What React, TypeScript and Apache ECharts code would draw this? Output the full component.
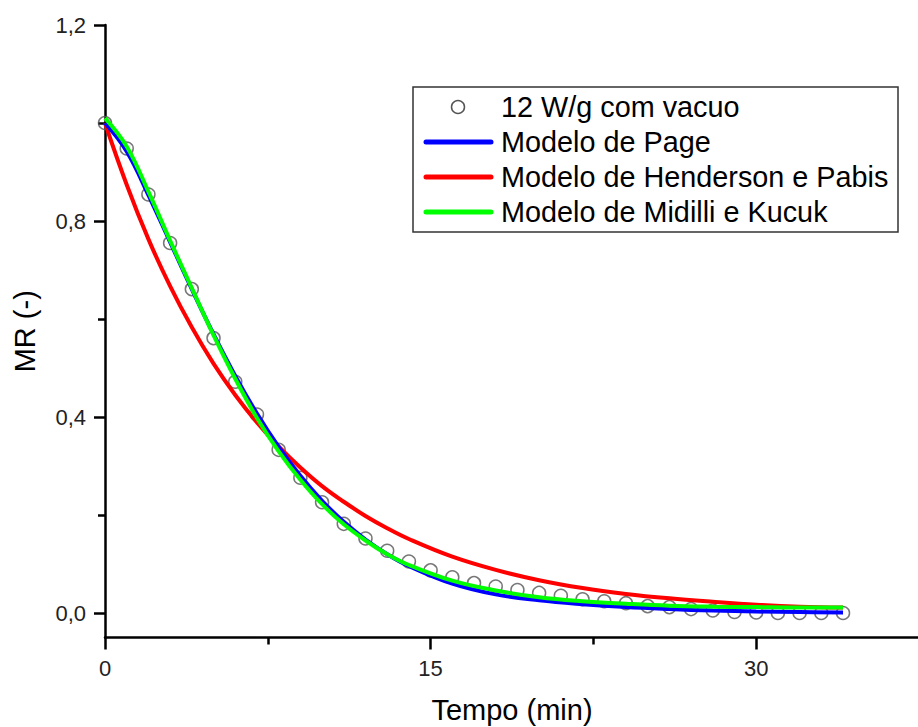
import React, { useEffect, useRef } from "react";
import * as echarts from "echarts";

// Experimental data: 12 W/g com vacuo
const dataTime = [0, 1, 2, 3, 4, 5, 6, 7, 8, 9, 10, 11, 12, 13, 14, 15, 16, 17, 18, 19, 20, 21, 22, 23, 24, 25, 26, 27, 28, 29, 30, 31, 32, 33, 34];
const dataMR = [1.0, 0.948, 0.854, 0.755, 0.661, 0.561, 0.472, 0.405, 0.333, 0.276, 0.226, 0.182, 0.152, 0.127, 0.105, 0.087, 0.073, 0.061, 0.054, 0.047, 0.041, 0.035, 0.028, 0.024, 0.02, 0.014, 0.012, 0.008, 0.005, 0.002, 0.001, 0.0, 0.0, 0.0, 0.0];

// Model curves
const curveTime = [0, 1, 2, 3, 4, 5, 6, 7, 8, 9, 10, 11, 12, 13, 14, 16, 18, 20, 22, 24, 26, 28, 30, 32, 34];
const pageMR = [1.0, 0.942, 0.853, 0.757, 0.661, 0.569, 0.484, 0.407, 0.339, 0.28, 0.229, 0.186, 0.15, 0.12, 0.096, 0.06, 0.038, 0.026, 0.018, 0.012, 0.008, 0.005, 0.003, 0.002, 0.001];
const hendersonMR = [1.0, 0.874, 0.763, 0.667, 0.583, 0.509, 0.445, 0.389, 0.34, 0.297, 0.259, 0.227, 0.198, 0.173, 0.151, 0.115, 0.088, 0.067, 0.051, 0.039, 0.03, 0.023, 0.017, 0.013, 0.011];
const midilliMR = [1.01, 0.952, 0.86, 0.76, 0.663, 0.567, 0.478, 0.398, 0.33, 0.272, 0.222, 0.181, 0.148, 0.12, 0.098, 0.066, 0.046, 0.032, 0.024, 0.019, 0.015, 0.013, 0.012, 0.011, 0.011];

const xMajorTicks = [0, 15, 30];
const xMinorTicks = [7.5, 22.5, 37.5];
const yMajorTicks = [0, 0.4, 0.8, 1.2];
const yMinorTicks = [0.2, 0.6, 1.0];

const legendNames = ["12 W/g com vacuo", "Modelo de Page", "Modelo de Henderson e Pabis", "Modelo de Midilli e Kucuk"];
const lineColors = ["#0000ff", "#ff0000", "#00ff00"];

const FONT = "'Liberation Sans', Arial, sans-serif";

export default function App() {
  const ref = useRef<HTMLDivElement>(null);

  useEffect(() => {
    if (!ref.current) return;
    const chart = echarts.init(ref.current, undefined, { renderer: "svg" });

    const pairs = (xs: number[], ys: number[]) => xs.map((x, i) => [x, ys[i]]);
    const fmt = (v: number) => v.toFixed(1).replace(".", ",");

    const axisLineStyle = { color: "#000", width: 2.5 };
    const labelStyle = { fontFamily: FONT, fontSize: 22, color: "#222" };

    const lineSeries = (name: string, ys: number[], color: string) => ({
      name,
      type: "line",
      data: pairs(curveTime, ys),
      smooth: 0.4,
      symbol: "none",
      showSymbol: false,
      lineStyle: { color, width: 4 },
      itemStyle: { color },
      z: 3,
    });

    const legendRows = [107, 142, 177, 212];
    const graphics: any[] = [
      {
        type: "rect",
        shape: { x: 413, y: 87, width: 485, height: 145 },
        style: { fill: "#fff", stroke: "#333", lineWidth: 1.5 },
        z: 100,
      },
      {
        type: "circle",
        shape: { cx: 458, cy: legendRows[0], r: 6.5 },
        style: { fill: "#fff", stroke: "#555", lineWidth: 1.5 },
        z: 101,
      },
    ];
    lineColors.forEach((c, i) => {
      graphics.push({
        type: "line",
        shape: { x1: 426, y1: legendRows[i + 1], x2: 491, y2: legendRows[i + 1] },
        style: { stroke: c, lineWidth: 5, lineCap: "round" },
        z: 101,
      });
    });
    legendNames.forEach((n, i) => {
      graphics.push({
        type: "text",
        x: 501,
        y: legendRows[i],
        style: {
          text: n,
          fontFamily: FONT,
          fontSize: 28.8,
          fill: "#000",
          textVerticalAlign: "middle",
          textAlign: "left",
        },
        z: 102,
      });
    });

    chart.setOption({
      animation: false,
      backgroundColor: "#fff",
      grid: { left: 105, top: 25, width: 814, height: 612.5, containLabel: false, outerBoundsMode: "none" },
      xAxis: [
        {
          type: "value",
          min: 0,
          max: 37.5,
          interval: 15,
          name: "Tempo (min)",
          nameLocation: "middle",
          nameGap: 57,
          nameTextStyle: { fontFamily: FONT, fontSize: 29, color: "#000", lineHeight: 31 },
          axisLine: { show: true, onZero: false, lineStyle: axisLineStyle },
          axisTick: { show: true, inside: false, length: 12, customValues: xMajorTicks, lineStyle: { color: "#000", width: 2.5 } },
          axisLabel: { show: true, margin: 20, customValues: xMajorTicks, formatter: (v: number) => String(v), ...labelStyle },
          splitLine: { show: false },
        },
        {
          type: "value",
          min: 0,
          max: 37.5,
          position: "bottom",
          gridIndex: 0,
          axisLine: { show: false, onZero: false },
          axisTick: { show: true, inside: false, length: 7, customValues: xMinorTicks, lineStyle: { color: "#000", width: 2.5 } },
          axisLabel: { show: false },
          splitLine: { show: false },
        },
      ],
      yAxis: [
        {
          type: "value",
          min: -0.05,
          max: 1.2,
          name: "MR (-)",
          nameLocation: "middle",
          nameGap: 66,
          nameRotate: 90,
          nameTextStyle: { fontFamily: FONT, fontSize: 29, color: "#000" },
          axisLine: { show: true, onZero: false, lineStyle: axisLineStyle },
          axisTick: { show: true, inside: false, length: 11, customValues: yMajorTicks, lineStyle: { color: "#000", width: 2.5 } },
          axisLabel: { show: true, margin: 19, customValues: yMajorTicks, formatter: fmt, ...labelStyle },
          splitLine: { show: false },
        },
        {
          type: "value",
          min: -0.05,
          max: 1.2,
          position: "left",
          offset: 0,
          axisLine: { show: false, onZero: false },
          axisTick: { show: true, inside: false, length: 7, customValues: yMinorTicks, lineStyle: { color: "#000", width: 2.5 } },
          axisLabel: { show: false },
          splitLine: { show: false },
        },
      ],
      series: [
        {
          name: legendNames[0],
          type: "scatter",
          data: pairs(dataTime, dataMR),
          symbol: "circle",
          symbolSize: 13,
          itemStyle: { color: "rgba(255,255,255,0)", borderColor: "#555", borderWidth: 1.5 },
          z: 2,
        },
        lineSeries(legendNames[2], hendersonMR, lineColors[1]),
        lineSeries(legendNames[1], pageMR, lineColors[0]),
        lineSeries(legendNames[3], midilliMR, lineColors[2]),
      ],
      graphic: graphics,
    });

    return () => chart.dispose();
  }, []);

  return (
    <div
      ref={ref}
      style={{ position: "fixed", left: 0, top: 0, width: 918, height: 727, background: "#fff" }}
    />
  );
}
